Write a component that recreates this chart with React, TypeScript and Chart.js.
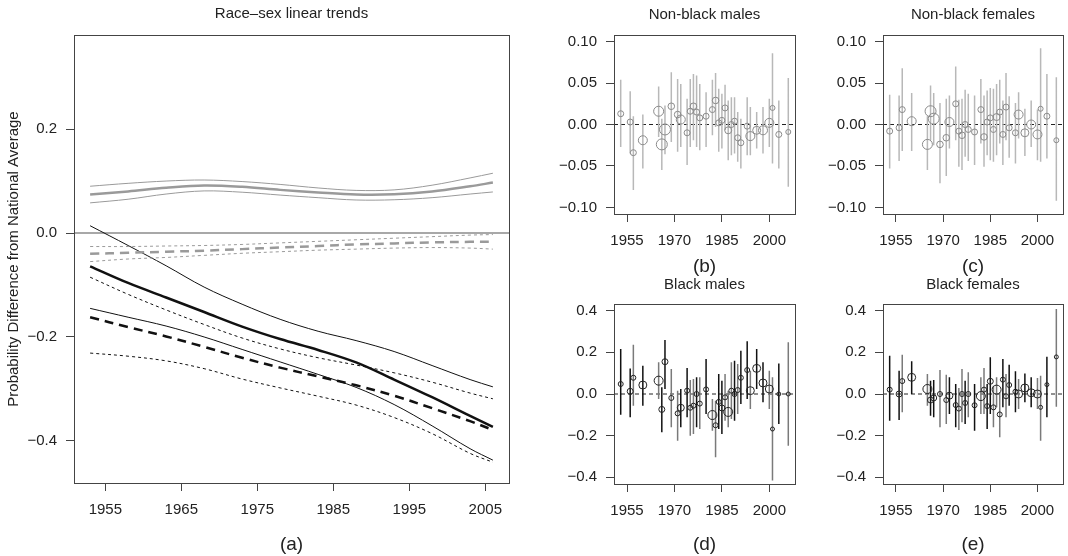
import React, { useEffect, useRef } from "react";
import { Chart, registerables } from "chart.js";

Chart.register(...registerables);

const FONT = "'Liberation Sans', Arial, Helvetica, sans-serif";
const FS = 15;
const W = 1068;
const H = 556;
const YW = 60;
const AX = "#444";
const TXT = "#222";

// ---------- Panel (a): smoothed trend curves ----------
const curveYears = [1953, 1958, 1963, 1968, 1973, 1978, 1983, 1988, 1993, 1998, 2003, 2006];
const nbMaleMid = [0.074, 0.080, 0.087, 0.0915, 0.089, 0.083, 0.078, 0.074, 0.0745, 0.080, 0.090, 0.097];
const nbMaleUp = [0.090, 0.0956, 0.100, 0.102, 0.099, 0.0935, 0.0867, 0.082, 0.083, 0.092, 0.106, 0.115];
const nbMaleLow = [0.058, 0.065, 0.075, 0.081, 0.0785, 0.073, 0.068, 0.0635, 0.064, 0.068, 0.075, 0.079];
const nbFemMid = [-0.040, -0.038, -0.036, -0.034, -0.031, -0.028, -0.025, -0.022, -0.020, -0.018, -0.017, -0.017];
const nbFemUp = [-0.026, -0.026, -0.025, -0.024, -0.022, -0.019, -0.016, -0.013, -0.010, -0.007, -0.004, -0.003];
const nbFemLow = [-0.055, -0.050, -0.047, -0.043, -0.039, -0.036, -0.033, -0.031, -0.029, -0.028, -0.029, -0.031];
const bMaleMid = [-0.064, -0.096, -0.124, -0.152, -0.180, -0.204, -0.225, -0.249, -0.282, -0.316, -0.352, -0.373];
const bMaleUp = [0.014, -0.024, -0.063, -0.104, -0.137, -0.166, -0.189, -0.207, -0.228, -0.255, -0.282, -0.296];
const bMaleLow = [-0.145, -0.162, -0.179, -0.200, -0.224, -0.248, -0.272, -0.297, -0.330, -0.371, -0.415, -0.437];
const bFemMid = [-0.162, -0.181, -0.199, -0.219, -0.240, -0.259, -0.276, -0.293, -0.313, -0.337, -0.362, -0.379];
const bFemUp = [-0.085, -0.118, -0.148, -0.176, -0.202, -0.223, -0.240, -0.254, -0.269, -0.287, -0.308, -0.319];
const bFemLow = [-0.231, -0.237, -0.246, -0.261, -0.281, -0.298, -0.314, -0.331, -0.355, -0.386, -0.424, -0.441];

// ---------- Panels (b)-(e): yearly estimates ----------
const years = [1953, 1956, 1957, 1960, 1965, 1966, 1967, 1969, 1971, 1972, 1974, 1975, 1976, 1977, 1978, 1980, 1982, 1983, 1984, 1985, 1986, 1987, 1988, 1989, 1990, 1991, 1993, 1994, 1996, 1998, 2000, 2001, 2003, 2006];

const nbMaleEst = [0.013, 0.003, -0.034, -0.019, 0.016, -0.024, -0.006, 0.022, 0.012, 0.006, -0.010, 0.016, 0.022, 0.015, 0.008, 0.010, 0.018, 0.029, 0.002, 0.005, 0.020, -0.007, 0.000, 0.004, -0.016, -0.022, -0.002, -0.014, -0.007, -0.007, 0.002, 0.020, -0.012, -0.009];
const nbMaleHi = [0.054, 0.040, 0.010, 0.012, 0.046, 0.007, 0.023, 0.063, 0.055, 0.049, 0.031, 0.055, 0.061, 0.059, 0.049, 0.039, 0.054, 0.062, 0.043, 0.037, 0.048, 0.029, 0.033, 0.033, 0.015, 0.007, 0.033, 0.021, 0.015, 0.021, 0.031, 0.086, 0.029, 0.056];
const nbMaleLo = [-0.027, -0.035, -0.079, -0.053, -0.015, -0.055, -0.036, -0.021, -0.033, -0.027, -0.049, -0.027, -0.019, -0.027, -0.031, -0.027, -0.013, -0.003, -0.033, -0.029, -0.007, -0.043, -0.037, -0.035, -0.045, -0.053, -0.037, -0.037, -0.029, -0.035, -0.027, -0.047, -0.053, -0.075];

const nbFemEst = [-0.008, -0.004, 0.018, 0.004, -0.024, 0.016, 0.007, -0.024, -0.016, 0.003, 0.025, -0.008, -0.013, 0.000, -0.006, -0.009, 0.018, -0.015, 0.003, 0.008, -0.006, 0.009, 0.015, -0.012, 0.021, -0.004, -0.010, 0.012, -0.010, 0.000, -0.012, 0.019, 0.010, -0.019];
const nbFemHi = [0.036, 0.035, 0.068, 0.038, 0.010, 0.047, 0.038, 0.026, 0.031, 0.035, 0.070, 0.030, 0.031, 0.042, 0.037, 0.035, 0.055, 0.035, 0.041, 0.044, 0.043, 0.049, 0.054, 0.029, 0.062, 0.034, 0.026, 0.039, 0.019, 0.029, 0.018, 0.092, 0.061, 0.057];
const nbFemLo = [-0.053, -0.044, -0.032, -0.032, -0.055, -0.019, -0.025, -0.071, -0.062, -0.029, -0.019, -0.051, -0.055, -0.039, -0.044, -0.049, -0.023, -0.051, -0.037, -0.043, -0.045, -0.037, -0.023, -0.049, -0.019, -0.040, -0.047, -0.017, -0.038, -0.027, -0.043, -0.045, -0.041, -0.092];

const bMaleEst = [0.048, 0.013, 0.078, 0.043, 0.064, -0.074, 0.155, -0.019, -0.093, -0.066, 0.016, -0.066, -0.056, 0.000, -0.046, 0.022, -0.101, -0.150, -0.038, -0.067, -0.016, -0.086, 0.016, 0.000, 0.019, 0.078, 0.115, 0.016, 0.123, 0.053, 0.024, -0.168, 0.000, 0.000];
const bMaleHi = [0.216, 0.123, 0.237, 0.136, 0.152, 0.032, 0.259, 0.120, 0.016, 0.024, 0.125, 0.067, 0.072, 0.080, 0.080, 0.168, -0.024, -0.032, 0.096, 0.064, 0.096, 0.016, 0.152, 0.160, 0.144, 0.208, 0.253, 0.112, 0.216, 0.152, 0.112, 0.080, 0.147, 0.248];
const bMaleLo = [-0.099, -0.112, -0.056, -0.056, -0.024, -0.184, 0.024, -0.160, -0.224, -0.160, -0.112, -0.200, -0.192, -0.160, -0.168, -0.096, -0.176, -0.304, -0.168, -0.192, -0.128, -0.160, -0.120, -0.128, -0.096, -0.048, -0.024, -0.072, 0.024, -0.040, -0.072, -0.415, -0.144, -0.248];

const bFemEst = [0.021, 0.000, 0.062, 0.080, 0.024, -0.029, -0.019, 0.000, -0.029, -0.008, -0.053, -0.070, 0.000, -0.043, 0.000, -0.054, -0.010, 0.021, -0.058, 0.061, -0.064, 0.021, -0.098, 0.069, -0.011, 0.043, 0.011, 0.000, 0.029, 0.006, 0.000, -0.064, 0.045, 0.178];
const bFemHi = [0.184, 0.112, 0.189, 0.157, 0.096, 0.064, 0.067, 0.115, 0.093, 0.080, 0.048, 0.029, 0.120, 0.064, 0.104, 0.048, 0.080, 0.125, 0.048, 0.176, 0.040, 0.080, 0.008, 0.168, 0.096, 0.141, 0.109, 0.072, 0.099, 0.080, 0.077, 0.088, 0.179, 0.408];
const bFemLo = [-0.128, -0.125, -0.088, 0.000, -0.056, -0.104, -0.112, -0.160, -0.144, -0.096, -0.160, -0.173, -0.136, -0.144, -0.112, -0.176, -0.096, -0.096, -0.168, -0.096, -0.160, -0.064, -0.208, -0.064, -0.112, -0.056, -0.088, -0.072, -0.040, -0.064, -0.072, -0.224, -0.112, -0.061];

const sizeNonBlack = [3, 3, 3, 4.5, 5, 5.5, 5.5, 3.3, 3.3, 4.5, 3, 3, 3.3, 3, 3, 3, 3, 3.3, 3, 3, 3, 3.5, 3, 3, 3, 3, 3, 4.5, 4, 4.5, 4.5, 2.5, 3, 2.5];
const sizeBlack = [2.5, 3, 2.5, 4, 4.5, 3, 3, 2.5, 2.5, 3.5, 2.5, 2.5, 2.5, 2.5, 2.5, 2.5, 4.5, 2.5, 2.5, 3, 2.5, 4.5, 2.5, 2.5, 2.5, 2.5, 2.5, 4, 4, 4, 4, 2, 2, 2];
const darkBar = [1, 1, 0, 1, 0, 1, 1, 0, 0, 1, 1, 0, 0, 1, 0, 1, 0, 0, 1, 1, 0, 0, 0, 1, 0, 1, 1, 0, 1, 1, 0, 0, 1, 0];

// ---------- Axes ----------
const xRange = [1950.88, 2008.12];
const trendXTicks = [1955, 1965, 1975, 1985, 1995, 2005];
const trendYTicks = [0.2, 0.0, -0.2, -0.4];
const trendYRange = [-0.481, 0.381];
const smallXTicks = [1955, 1970, 1985, 2000];
const nbYTicks = [-0.1, -0.05, 0, 0.05, 0.1];
const nbYRange = [-0.108, 0.108];
const bYTicks = [-0.4, -0.2, 0, 0.2, 0.4];
const bYRange = [-0.432, 0.432];

const fmt = (v: number, d: number) => (v < -1e-9 ? "\u2212" : "") + Math.abs(v).toFixed(d);

type Geo = { left: number; right: number; top: number; bottom: number };
type Deco = { title: string; titleY: number; label: string; labelY: number; ylabel?: string };

function decoPlugin(deco: Deco) {
  return {
    id: "deco",
    afterDraw(chart: any) {
      const { ctx, chartArea: a } = chart;
      ctx.save();
      ctx.strokeStyle = AX;
      ctx.lineWidth = 1;
      ctx.strokeRect(Math.round(a.left) + 0.5, Math.round(a.top) + 0.5, Math.round(a.right - a.left), Math.round(a.bottom - a.top));
      const cx = (a.left + a.right) / 2;
      ctx.fillStyle = TXT;
      ctx.textAlign = "center";
      ctx.textBaseline = "middle";
      ctx.font = `${FS}px ${FONT}`;
      ctx.fillText(deco.title, cx, deco.titleY);
      ctx.font = `19px ${FONT}`;
      ctx.fillText(deco.label, cx, deco.labelY);
      if (deco.ylabel) {
        ctx.font = `${FS}px ${FONT}`;
        ctx.translate(14, (a.top + a.bottom) / 2);
        ctx.rotate(-Math.PI / 2);
        ctx.fillText(deco.ylabel, 0, 0);
      }
      ctx.restore();
    },
  };
}

function makeOptions(geo: Geo, yRange: number[], xTicks: number[], yTicks: number[], dec: number) {
  return {
    responsive: false,
    animation: false,
    events: [],
    layout: { padding: { left: geo.left - YW, right: W - geo.right, top: geo.top, bottom: 0 } },
    plugins: { legend: { display: false }, tooltip: { enabled: false }, title: { display: false } },
    scales: {
      x: {
        type: "linear",
        position: "bottom",
        min: xRange[0],
        max: xRange[1],
        afterBuildTicks: (s: any) => {
          s.ticks = xTicks.map((v) => ({ value: v }));
        },
        afterFit: (s: any) => {
          s.height = H - geo.bottom;
        },
        grid: { display: true, drawOnChartArea: false, drawTicks: true, tickLength: 8, color: AX, lineWidth: 1 },
        border: { display: false },
        ticks: {
          autoSkip: false,
          maxRotation: 0,
          padding: 10,
          color: TXT,
          font: { family: FONT, size: FS },
          callback: (v: any) => String(v),
        },
      },
      y: {
        type: "linear",
        position: "left",
        min: yRange[0],
        max: yRange[1],
        afterBuildTicks: (s: any) => {
          s.ticks = yTicks.map((v) => ({ value: v }));
        },
        afterFit: (s: any) => {
          s.width = YW;
        },
        grid: { display: true, drawOnChartArea: false, drawTicks: true, tickLength: 8, color: AX, lineWidth: 1 },
        border: { display: false },
        ticks: {
          autoSkip: false,
          padding: 9,
          color: TXT,
          font: { family: FONT, size: FS },
          callback: (v: any) => fmt(Number(v), dec),
        },
      },
    },
  };
}

const pts = (xs: number[], ys: number[]) => xs.map((x, i) => ({ x, y: ys[i] }));

function curve(ys: number[], color: string, width: number, dash: number[], order: number) {
  return {
    type: "line",
    data: pts(curveYears, ys),
    borderColor: color,
    borderWidth: width,
    borderDash: dash,
    pointRadius: 0,
    tension: 0.35,
    fill: false,
    order,
  };
}

function trendConfig() {
  const geo = { left: 74, right: 509, top: 35, bottom: 483 };
  const gray = "#9a9a9a";
  const blk = "#111";
  return {
    type: "line",
    data: {
      datasets: [
        {
          type: "line",
          data: pts(xRange, [0, 0]),
          borderColor: "#a8a8a8",
          borderWidth: 2,
          pointRadius: 0,
          order: 20,
        },
        curve(nbMaleMid, gray, 2.5, [], 1),
        curve(nbMaleUp, gray, 1, [], 2),
        curve(nbMaleLow, gray, 1, [], 2),
        curve(nbFemMid, gray, 2.5, [9, 6], 1),
        curve(nbFemUp, gray, 1, [3, 3], 2),
        curve(nbFemLow, gray, 1, [3, 3], 2),
        curve(bMaleMid, blk, 2.5, [], 1),
        curve(bMaleUp, blk, 1, [], 2),
        curve(bMaleLow, blk, 1, [], 2),
        curve(bFemMid, blk, 2.5, [9, 6], 1),
        curve(bFemUp, blk, 1, [3, 3], 2),
        curve(bFemLow, blk, 1, [3, 3], 2),
      ],
    },
    options: makeOptions(geo, trendYRange, trendXTicks, trendYTicks, 1),
    plugins: [
      decoPlugin({
        title: "Race\u2013sex linear trends",
        titleY: 14,
        label: "(a)",
        labelY: 545,
        ylabel: "Probability Difference from National Average",
      }),
    ],
  };
}

function barData(lo: number[], hi: number[], flags: number[] | null, want: number) {
  const out: any[] = [];
  years.forEach((yr, i) => {
    if (flags && flags[i] !== want) return;
    out.push({ x: yr, y: lo[i] }, { x: yr, y: hi[i] }, { x: yr, y: null });
  });
  return out;
}

function smallConfig(
  geo: Geo,
  deco: Deco,
  est: number[],
  lo: number[],
  hi: number[],
  sizes: number[],
  black: boolean,
  yRange: number[],
  yTicks: number[],
  dec: number
) {
  const barLine = (data: any[], color: string) => ({
    type: "line",
    data,
    borderColor: color,
    borderWidth: 1.5,
    pointRadius: 0,
    spanGaps: false,
    fill: false,
    order: 5,
  });
  const bars = black
    ? [barLine(barData(lo, hi, darkBar, 1), "#111"), barLine(barData(lo, hi, darkBar, 0), "#7a7a7a")]
    : [barLine(barData(lo, hi, null, 0), "#b8b8b8")];
  return {
    type: "line",
    data: {
      datasets: [
        {
          type: "line",
          data: pts(xRange, [0, 0]),
          borderColor: "#222",
          borderWidth: 1,
          borderDash: [4, 3],
          pointRadius: 0,
          order: 10,
        },
        ...bars,
        {
          type: "line",
          data: pts(years, est),
          showLine: false,
          pointRadius: sizes,
          pointBorderWidth: 1,
          pointBorderColor: black ? "#222" : "#8a8a8a",
          pointBackgroundColor: "rgba(0,0,0,0)",
          order: 0,
        },
      ],
    },
    options: makeOptions(geo, yRange, smallXTicks, yTicks, dec),
    plugins: [decoPlugin(deco)],
  };
}

function ChartCanvas({ make }: { make: () => any }) {
  const ref = useRef<HTMLCanvasElement | null>(null);
  useEffect(() => {
    if (!ref.current) return;
    const chart = new Chart(ref.current, make());
    return () => chart.destroy();
  }, [make]);
  return (
    <canvas
      ref={ref}
      width={W}
      height={H}
      style={{ position: "absolute", left: 0, top: 0, width: W, height: H }}
    />
  );
}

const makers = [
  trendConfig,
  () =>
    smallConfig(
      { left: 614, right: 795, top: 35, bottom: 214 },
      { title: "Non-black males", titleY: 15, label: "(b)", labelY: 267 },
      nbMaleEst, nbMaleLo, nbMaleHi, sizeNonBlack, false, nbYRange, nbYTicks, 2
    ),
  () =>
    smallConfig(
      { left: 883, right: 1063, top: 35, bottom: 214 },
      { title: "Non-black females", titleY: 15, label: "(c)", labelY: 267 },
      nbFemEst, nbFemLo, nbFemHi, sizeNonBlack, false, nbYRange, nbYTicks, 2
    ),
  () =>
    smallConfig(
      { left: 614, right: 795, top: 304, bottom: 484 },
      { title: "Black males", titleY: 285, label: "(d)", labelY: 545 },
      bMaleEst, bMaleLo, bMaleHi, sizeBlack, true, bYRange, bYTicks, 1
    ),
  () =>
    smallConfig(
      { left: 883, right: 1063, top: 304, bottom: 484 },
      { title: "Black females", titleY: 285, label: "(e)", labelY: 545 },
      bFemEst, bFemLo, bFemHi, sizeBlack, true, bYRange, bYTicks, 1
    ),
];

export default function App() {
  return (
    <div style={{ position: "absolute", left: 0, top: 0, width: W, height: H, background: "#fff" }}>
      {makers.map((m, i) => (
        <ChartCanvas key={i} make={m} />
      ))}
    </div>
  );
}
